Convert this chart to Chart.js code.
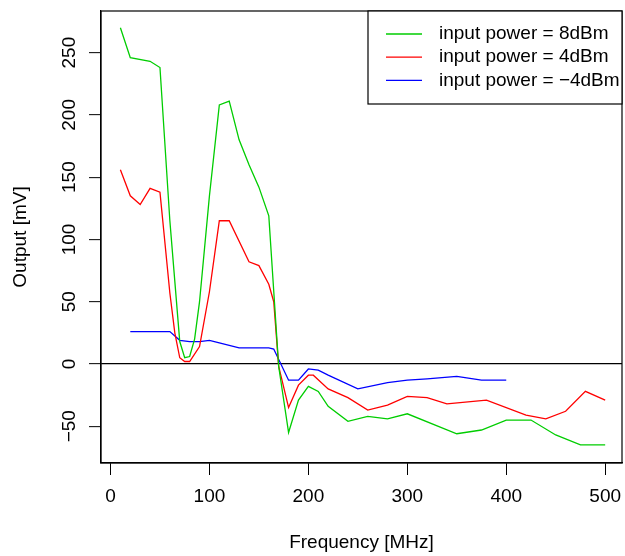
<!DOCTYPE html>
<html lang="en">
<head>
  <meta charset="UTF-8" />
  <title>Output vs Frequency</title>
  <script src="https://cdn.jsdelivr.net/npm/chart.js"></script>
  <style>
    body { margin: 0; background: #fff; }
    canvas { display: block; }
  </style>
</head>
<body>
<canvas id="grafico" width="625" height="556"></canvas>

<script>
  // dati
  const freq8dBm = [10, 20, 40, 50, 60, 70, 75, 80, 85, 90, 100, 110, 120, 130, 140, 150, 160, 170, 180, 190, 200, 210, 220, 240, 260, 280, 300, 350, 375, 400, 425, 450, 475, 500];
  const out8dBm = [270, 246, 243, 238, 115, 18, 5, 6, 20, 50, 135, 208, 211, 180, 160, 142, 119, -2, -55, -29, -18, -22, -34, -46, -42, -44, -40, -56, -53, -45, -45, -57, -65, -65];

  const freq4dBm = [10, 20, 30, 40, 50, 60, 65, 70, 75, 80, 90, 100, 110, 120, 140, 150, 160, 165, 170, 180, 190, 200, 205, 220, 240, 260, 280, 300, 320, 340, 380, 420, 440, 460, 480, 500];
  const out4dBm = [156, 135, 128, 141, 138, 57, 25, 5, 2, 2, 14, 58, 115, 115, 82, 79, 64, 50, -2, -35, -17, -9, -9, -20, -27, -37, -33, -26, -27, -32, -29, -41, -44, -38, -22, -29];

  const freqM4dBm = [20, 60, 70, 80, 90, 100, 110, 130, 160, 165, 180, 190, 200, 210, 220, 250, 280, 300, 320, 350, 375, 400];
  const outM4dBm = [26, 26, 19, 18, 18, 19, 17, 13, 13, 12, -13, -13, -4, -5, -9, -20, -15, -13, -12, -10, -13, -13];

  const seriesLabels = ['input power = 8dBm', 'input power = 4dBm', 'input power = \u22124dBm'];
  const xTicks = [0, 100, 200, 300, 400, 500];
  const yTicks = [-50, 0, 50, 100, 150, 200, 250];

  const font = '"Liberation Sans", Arial, sans-serif';

  function punti(xs, ys) {
    return xs.map((x, i) => ({ x: x, y: ys[i] }));
  }

  // riquadro attorno al grafico + legenda stile R
  const boxPlugin = {
    id: 'boxR',
    afterDraw(chart) {
      const ctx = chart.ctx;
      const a = chart.chartArea;
      ctx.save();
      ctx.strokeStyle = '#000';
      ctx.lineWidth = 1.2;
      ctx.strokeRect(a.left, a.top, a.right - a.left, a.bottom - a.top);

      // legenda
      const w = 254, h = 93;
      const lx = a.right - w, ly = a.top;
      ctx.fillStyle = '#fff';
      ctx.fillRect(lx, ly, w, h);
      ctx.strokeRect(lx, ly, w, h);
      ctx.font = '19px ' + font;
      ctx.textBaseline = 'middle';
      ctx.textAlign = 'left';
      chart.data.datasets.forEach((ds, i) => {
        const y = ly + 23 + i * 23.2;
        ctx.strokeStyle = ds.borderColor;
        ctx.lineWidth = 1.3;
        ctx.beginPath();
        ctx.moveTo(lx + 18, y);
        ctx.lineTo(lx + 54, y);
        ctx.stroke();
        ctx.fillStyle = '#000';
        ctx.fillText(ds.label, lx + 71, y);
      });
      ctx.restore();
    }
  };

  new Chart(document.getElementById('grafico'), {
    type: 'line',
    data: {
      datasets: [
        { label: seriesLabels[0], data: punti(freq8dBm, out8dBm), borderColor: '#00cd00' },
        { label: seriesLabels[1], data: punti(freq4dBm, out4dBm), borderColor: '#ff0000' },
        { label: seriesLabels[2], data: punti(freqM4dBm, outM4dBm), borderColor: '#0000ff' }
      ]
    },
    options: {
      responsive: false,
      animation: false,
      layout: { padding: { left: 0, top: 11, right: 3, bottom: 0 } },
      elements: {
        line: { borderWidth: 1.3, tension: 0, fill: false },
        point: { radius: 0, hoverRadius: 0 }
      },
      plugins: {
        legend: { display: false },
        tooltip: { enabled: false }
      },
      scales: {
        x: {
          type: 'linear',
          min: -9.6,
          max: 517,
          afterBuildTicks: s => { s.ticks = xTicks.map(v => ({ value: v })); },
          afterFit: s => { s.height = 93; s.paddingLeft = 0; s.paddingRight = 0; },
          grid: { drawOnChartArea: false, tickLength: 12, tickColor: '#000', tickWidth: 1 },
          border: { display: true, color: '#000', width: 1.2 },
          ticks: {
            autoSkip: false,
            maxRotation: 0,
            padding: 10,
            color: '#000',
            font: { family: font, size: 19 }
          },
          title: {
            display: true,
            text: 'Frequency [MHz]',
            color: '#000',
            font: { family: font, size: 19 },
            padding: { top: 0, bottom: 2 }
          }
        },
        y: {
          min: -79.5,
          max: 283.4,
          afterBuildTicks: s => { s.ticks = yTicks.map(v => ({ value: v })); },
          afterFit: s => { s.width = 101; s.paddingTop = 0; s.paddingBottom = 0; },
          grid: {
            color: c => (c.tick && c.tick.value === 0 ? '#000' : 'rgba(0,0,0,0)'),
            lineWidth: 1.3,
            tickLength: 12,
            tickColor: '#000',
            tickWidth: 1
          },
          border: { display: true, color: '#000', width: 1.2 },
          ticks: {
            minRotation: 90,
            maxRotation: 90,
            crossAlign: 'center',
            padding: 3,
            color: '#000',
            font: { family: font, size: 19 },
            callback: v => (v < 0 ? '\u2212' + Math.abs(v) : String(v))
          },
          title: {
            display: true,
            text: 'Output [mV]',
            color: '#000',
            font: { family: font, size: 19 },
            padding: { top: 9, bottom: 0 }
          }
        }
      }
    },
    plugins: [boxPlugin]
  });
</script>
</body>
</html>
